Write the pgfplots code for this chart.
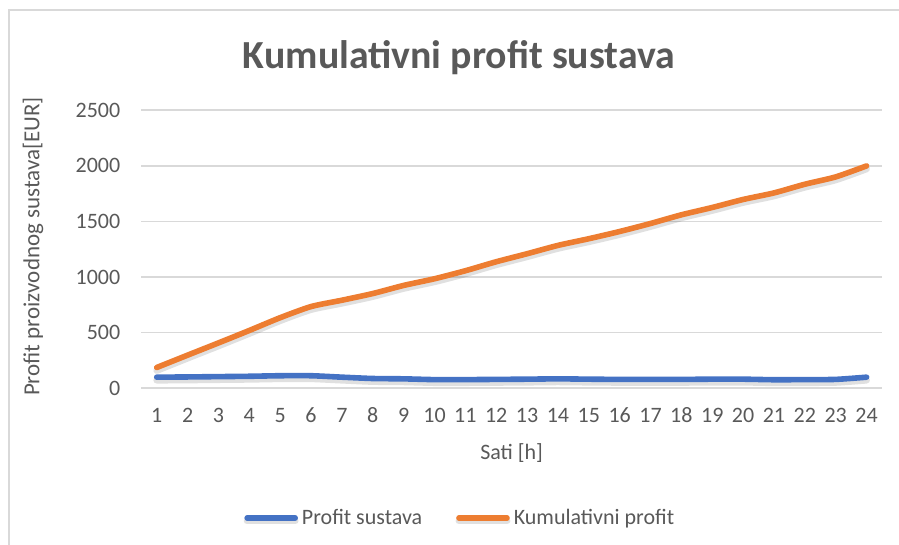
\documentclass[border=0pt]{standalone}
\usepackage{pgfplots}
\pgfplotsset{compat=1.18}
\usepackage{fontspec}
\setmainfont{Carlito}
\definecolor{exblue}{HTML}{4472C4}
\definecolor{exorange}{HTML}{ED7D31}
\definecolor{gridgray}{HTML}{D9D9D9}
\definecolor{txtgray}{HTML}{595959}
\begin{document}
\begin{tikzpicture}[x=0.5pt,y=0.5pt]
\useasboundingbox (0,0) rectangle (899,545);
\draw[gridgray, line width=0.8pt] (9,0) -- (9,535) -- (899,535);
\node[text=txtgray, anchor=base, inner sep=0pt, font=\fontsize{19.9}{24}\selectfont\bfseries] at (459,476) {Kumulativni profit sustava};
\begin{axis}[
  at={(70.65pt,78.35pt)}, anchor=south west,
  scale only axis, width=370.35pt, height=139pt,
  xmin=0.5, xmax=24.5, ymin=0, ymax=2500,
  xtick={1,...,24}, ytick={0,500,...,2500},
  axis line style={draw=none}, tick style={draw=none},
  ymajorgrids, major grid style={gridgray, line width=0.8pt},
  /pgf/number format/assume math mode=true,
  /pgf/number format/1000 sep={},
  tick label style={font=\fontsize{11}{13}\selectfont, text=txtgray},
  yticklabel style={xshift=-7pt},
  xticklabel style={yshift=-7pt, text height=1.4ex, text depth=0pt},
  xlabel={Sati [h]}, ylabel={Profit proizvodnog sustava[EUR]},
  every axis x label/.style={at={(axis description cs:0.5,-0.232)}, anchor=center,
    font=\fontsize{11}{13}\selectfont, text=txtgray},
  every axis y label/.style={at={(axis description cs:-0.146,0.51)}, rotate=90, anchor=center,
    font=\fontsize{11.5}{13}\selectfont, text=txtgray},
  legend style={draw=none, at={(axis description cs:0.432,-0.4665)}, anchor=center,
    legend columns=2, font=\fontsize{11}{13}\selectfont, text=txtgray,
    /tikz/every even column/.append style={column sep=15pt}, inner sep=0pt,
    /tikz/every odd column/.append style={column sep=0pt}},
  legend image code/.code={\draw[#1, line width=2.8pt, line cap=round] (0pt,0pt) -- (24pt,0pt);},
  every axis plot/.append style={line width=2.8pt, line cap=round, line join=round, smooth, tension=0.4,
    preaction={draw=black, opacity=0.12, line width=3.4pt, transform canvas={yshift=-1.5pt}}},
  clip=false
]
\addplot[exblue, mark=none] coordinates {
(1,100)(2,102)(3,105)(4,108)(5,113)(6,113)(7,100)(8,88)(9,85)(10,78)(11,78)(12,80)
(13,82)(14,85)(15,82)(16,80)(17,80)(18,80)(19,82)(20,82)(21,77)(22,78)(23,80)(24,100)};
\addplot[exorange, mark=none] coordinates {
(1,187)(2,298)(3,408)(4,520)(5,635)(6,735)(7,792)(8,852)(9,925)(10,985)(11,1057)(12,1138)
(13,1210)(14,1285)(15,1345)(16,1410)(17,1482)(18,1560)(19,1626)(20,1698)(21,1757)(22,1835)(23,1901)(24,2000)};
\legend{Profit sustava,Kumulativni profit}
\end{axis}
\end{tikzpicture}
\end{document}
